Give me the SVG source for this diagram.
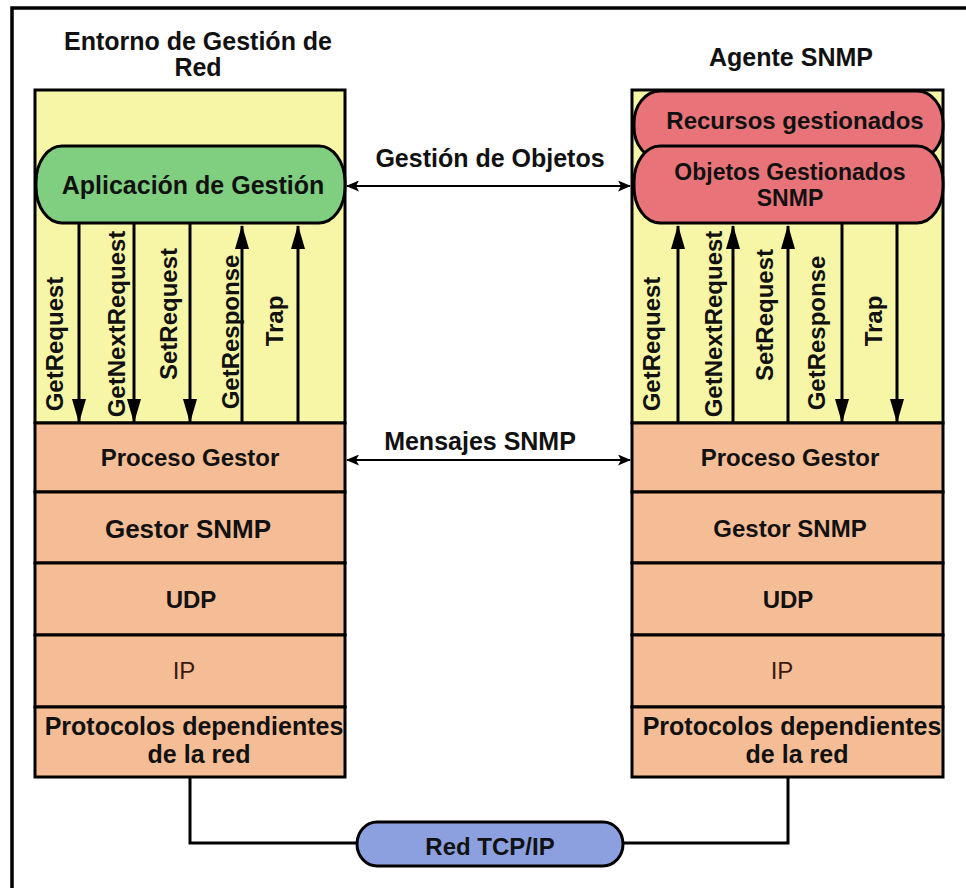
<svg xmlns="http://www.w3.org/2000/svg" width="966" height="888" viewBox="0 0 966 888">
<style>
.t{font-family:"Liberation Sans",Arial,sans-serif;font-weight:bold;fill:#111;text-anchor:middle}
.s24{font-size:24px}
.s25{font-size:25px}
.col{fill:#F7F6A6;stroke:#000;stroke-width:3}
.lay{fill:#F5BD95;stroke:#000;stroke-width:3}
.ln{stroke:#000;stroke-width:3;fill:none}
.thin{stroke:#000;stroke-width:2;fill:none}
</style>
<defs>
<marker id="big" viewBox="0 0 24 14" refX="23" refY="7" markerWidth="24" markerHeight="14" markerUnits="userSpaceOnUse" orient="auto">
<path d="M0,0 L24,7 L0,14 z" fill="#000"/>
</marker>
<marker id="sm" viewBox="0 0 13 11" refX="12" refY="5.5" markerWidth="13" markerHeight="11" markerUnits="userSpaceOnUse" orient="auto-start-reverse">
<path d="M0,0 L13,5.5 L0,11 L3,5.5 z" fill="#000"/>
</marker>
</defs>
<rect x="0" y="0" width="966" height="888" fill="#fff"/>
<rect x="12" y="8" width="970" height="900" fill="none" stroke="#000" stroke-width="3.5"/>

<g id="manager">
<text class="t s25" x="198" y="50">Entorno de Gestión de</text>
<text class="t s25" x="198" y="76">Red</text>
<rect class="col" x="35" y="90" width="310" height="333"/>
</g>
<g id="app">
<rect x="36" y="146" width="309" height="77" rx="26" ry="36" fill="#80CF80" stroke="#000" stroke-width="3"/>
<text class="t s25" x="193" y="194">Aplicación de Gestión</text>
</g>
<g id="agent">
<text class="t s25" x="791" y="66">Agente SNMP</text>
<rect class="col" x="632" y="90" width="311" height="333"/>
</g>
<g id="recursos">
<rect x="634" y="91" width="309" height="68" rx="26" ry="32" fill="#E8747A" stroke="#000" stroke-width="3"/>
<text class="t s24" x="795" y="129">Recursos gestionados</text>
</g>
<g id="objetos">
<rect x="634" y="146" width="309" height="77" rx="26" ry="36" fill="#E8747A" stroke="#000" stroke-width="3"/>
<text class="t" style="font-size:23px" x="790" y="180">Objetos Gestionados</text>
<text class="t" style="font-size:23px" x="790" y="206">SNMP</text>
</g>

<g id="left-stack">
<rect class="lay" x="35" y="423" width="310" height="69"/>
<text class="t s24" x="190" y="466">Proceso Gestor</text>
<rect class="lay" x="35" y="492" width="310" height="71"/>
<text class="t" style="font-size:26px" x="188" y="538">Gestor SNMP</text>
<rect class="lay" x="35" y="563" width="310" height="72"/>
<text class="t s24" x="191" y="608">UDP</text>
<rect class="lay" x="35" y="635" width="310" height="72"/>
<text class="t" style="font-size:24px;font-weight:normal;fill:#3a1a10" x="184" y="679">IP</text>
<rect class="lay" x="35" y="707" width="310" height="70"/>
<text class="t s25" x="194" y="735">Protocolos dependientes</text>
<text class="t s25" x="199" y="763">de la red</text>
</g>

<g id="right-stack">
<rect class="lay" x="632" y="423" width="311" height="69"/>
<text class="t s24" x="790" y="466">Proceso Gestor</text>
<rect class="lay" x="632" y="492" width="311" height="71"/>
<text class="t s24" x="790" y="537">Gestor SNMP</text>
<rect class="lay" x="632" y="563" width="311" height="72"/>
<text class="t s24" x="788" y="608">UDP</text>
<rect class="lay" x="632" y="635" width="311" height="72"/>
<text class="t" style="font-size:24px;font-weight:normal;fill:#3a1a10" x="782" y="679">IP</text>
<rect class="lay" x="632" y="707" width="311" height="70"/>
<text class="t s25" x="792" y="735">Protocolos dependientes</text>
<text class="t s25" x="797" y="763">de la red</text>
</g>

<g id="red">
<rect x="357" y="822" width="266" height="44" rx="20" ry="22" fill="#8CA0E0" stroke="#000" stroke-width="3"/>
<text class="t s24" x="490" y="855">Red TCP/IP</text>
</g>

<g id="connectors">
<line class="ln" x1="79" y1="223" x2="79" y2="422" marker-end="url(#big)"/>
<line class="ln" x1="134" y1="223" x2="134" y2="422" marker-end="url(#big)"/>
<line class="ln" x1="190" y1="223" x2="190" y2="422" marker-end="url(#big)"/>
<line class="ln" x1="242" y1="422" x2="242" y2="226" marker-end="url(#big)"/>
<line class="ln" x1="298" y1="422" x2="298" y2="226" marker-end="url(#big)"/>
<line class="ln" x1="678" y1="422" x2="678" y2="226" marker-end="url(#big)"/>
<line class="ln" x1="733" y1="422" x2="733" y2="226" marker-end="url(#big)"/>
<line class="ln" x1="788" y1="422" x2="788" y2="226" marker-end="url(#big)"/>
<line class="ln" x1="842" y1="223" x2="842" y2="422" marker-end="url(#big)"/>
<line class="ln" x1="897" y1="223" x2="897" y2="422" marker-end="url(#big)"/>
<line class="thin" x1="347" y1="186" x2="630" y2="186" marker-start="url(#sm)" marker-end="url(#sm)"/>
<line class="thin" x1="347" y1="460" x2="630" y2="460" marker-start="url(#sm)" marker-end="url(#sm)"/>
<polyline class="ln" points="190,777 190,843 357,843"/>
<polyline class="ln" points="623,843 788,843 788,777"/>
</g>

<g id="labels">
<text class="t s25" x="490" y="167">Gestión de Objetos</text>
<text class="t s25" x="480" y="450">Mensajes SNMP</text>
<text class="t s24" transform="translate(63,344) rotate(-90)">GetRequest</text>
<text class="t s24" transform="translate(125,324) rotate(-90)">GetNextRequest</text>
<text class="t s24" transform="translate(177,314) rotate(-90)">SetRequest</text>
<text class="t s24" transform="translate(239,332) rotate(-90)">GetResponse</text>
<text class="t s24" transform="translate(283,321) rotate(-90)">Trap</text>
<text class="t s24" transform="translate(660,344) rotate(-90)">GetRequest</text>
<text class="t s24" transform="translate(722,324) rotate(-90)">GetNextRequest</text>
<text class="t s24" transform="translate(773,315) rotate(-90)">SetRequest</text>
<text class="t s24" transform="translate(825,333) rotate(-90)">GetResponse</text>
<text class="t s24" transform="translate(882,321) rotate(-90)">Trap</text>
</g>
</svg>
